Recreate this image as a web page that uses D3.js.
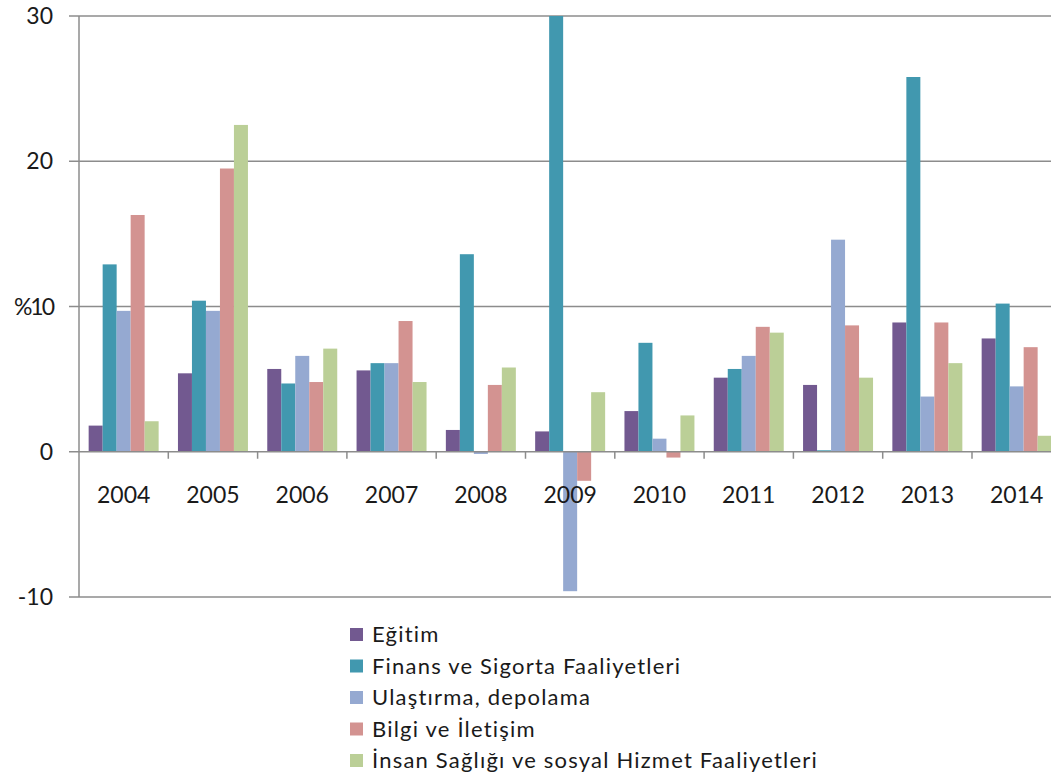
<!DOCTYPE html>
<html>
<head>
<meta charset="utf-8">
<script src="https://cdn.jsdelivr.net/npm/d3@7"></script>
<style>
body{margin:0;background:#fff;}
svg{display:block;}
</style>
</head>
<body>
<div id="chart"></div>
<script>
var WIDTH=1051, HEIGHT=781;

// data
var years=["2004","2005","2006","2007","2008","2009","2010","2011","2012","2013","2014"];
var seriesNames=["Eğitim","Finans ve Sigorta Faaliyetleri","Ulaştırma, depolama","Bilgi ve İletişim","İnsan Sağlığı ve sosyal Hizmet Faaliyetleri"];
var egitim=[1.8,5.4,5.7,5.6,1.5,1.4,2.8,5.1,4.6,8.9,7.8];
var finans=[12.9,10.4,4.7,6.1,13.6,31.0,7.5,5.7,0.1,25.8,10.2];
var ulastirma=[9.7,9.7,6.6,6.1,-0.15,-9.6,0.9,6.6,14.6,3.8,4.5];
var bilgi=[16.3,19.5,4.8,9.0,4.6,-2.0,-0.4,8.6,8.7,8.9,7.2];
var insan=[2.1,22.5,7.1,4.8,5.8,4.1,2.5,8.2,5.1,6.1,1.1];
var yTicks=[-10,0,10,20,30];
var yTickLabels=["-10","0","%10","20","30"];
var colors=["#725990","#4198AF","#95A9D1","#D39391","#BBCF97"];

var allSeries=[egitim,finans,ulastirma,bilgi,insan];

var MARGIN_LEFT=79, MARGIN_TOP=16, BOTTOM_Y=597;
var BAND=89.3;

var svg=d3.select("#chart").append("svg")
  .attr("width",WIDTH)
  .attr("height",HEIGHT);

var x=d3.scaleBand()
  .domain(years)
  .range([MARGIN_LEFT,MARGIN_LEFT+BAND*years.length])
  .paddingInner(0)
  .paddingOuter(0);

var y=d3.scaleLinear()
  .domain([-10,30])
  .range([BOTTOM_Y,MARGIN_TOP]);

var x1=d3.scaleBand()
  .domain(d3.range(seriesNames.length))
  .range([0,x.bandwidth()])
  .paddingOuter(0.69)
  .paddingInner(0);

var plotRight=MARGIN_LEFT+BAND*years.length;

// gridlines
svg.append("g")
  .selectAll("line")
  .data(yTicks.filter(function(d){return d!==0;}))
  .enter().append("line")
  .attr("x1",MARGIN_LEFT-10)
  .attr("x2",plotRight)
  .attr("y1",function(d){return y(d);})
  .attr("y2",function(d){return y(d);})
  .style("stroke","#8c8c8c")
  .style("stroke-width",1.5);

// y axis line
svg.append("line")
  .attr("x1",MARGIN_LEFT).attr("x2",MARGIN_LEFT)
  .attr("y1",y(30)).attr("y2",y(-10))
  .style("stroke","#8c8c8c")
  .style("stroke-width",1.5);

// bars
var groups=svg.append("g").selectAll("g")
  .data(years)
  .enter().append("g")
  .attr("transform",function(d){return "translate("+x(d)+",0)";});

groups.selectAll("rect")
  .data(function(d,i){
    return allSeries.map(function(s,k){return {k:k,v:s[i]};});
  })
  .enter().append("rect")
  .attr("x",function(d){return x1(d.k);})
  .attr("width",x1.bandwidth())
  .attr("y",function(d){return y(Math.min(30,Math.max(0,d.v)));})
  .attr("height",function(d){return Math.abs(y(Math.min(30,d.v))-y(0));})
  .style("fill",function(d){return colors[d.k];});

// zero line + category ticks
svg.append("line")
  .attr("x1",MARGIN_LEFT-10).attr("x2",plotRight)
  .attr("y1",y(0)).attr("y2",y(0))
  .style("stroke","#8c8c8c")
  .style("stroke-width",1.5);

svg.append("g").selectAll("line")
  .data(years.slice(1))
  .enter().append("line")
  .attr("x1",function(d){return x(d);})
  .attr("x2",function(d){return x(d);})
  .attr("y1",y(0))
  .attr("y2",y(0)+7)
  .style("stroke","#8c8c8c")
  .style("stroke-width",1.5);

// category labels
svg.append("g").selectAll("text")
  .data(years)
  .enter().append("text")
  .attr("x",function(d){return x(d)+x.bandwidth()/2;})
  .attr("y",y(0)+51)
  .style("text-anchor","middle")
  .style("font-family","Lato")
  .style("font-size","23px")
  .style("fill","#1a1a1a")
  .text(function(d){return d;});

// y labels
svg.append("g").selectAll("text")
  .data(yTicks)
  .enter().append("text")
  .attr("x",53)
  .attr("y",function(d){return y(d)+8;})
  .style("text-anchor","end")
  .style("font-family","Lato")
  .style("font-size","23px")
  .style("fill","#1a1a1a")
  .style("letter-spacing",function(d,i){return yTickLabels[i].charAt(0)==="%"?"-2px":"0px";})
  .text(function(d,i){return yTickLabels[i];});

// legend
var legend=svg.append("g").selectAll("g")
  .data(seriesNames)
  .enter().append("g")
  .attr("transform",function(d,i){return "translate(350,"+(634+i*31.5)+")";});

legend.append("rect")
  .attr("x",0).attr("y",-6)
  .attr("width",13).attr("height",13)
  .style("fill",function(d,i){return colors[i];});

legend.append("text")
  .attr("x",22)
  .attr("y",8)
  .style("font-family","Lato")
  .style("font-size","22px")
  .style("letter-spacing","1.2px")
  .style("fill","#1a1a1a")
  .text(function(d){return d;});
</script>
</body>
</html>
